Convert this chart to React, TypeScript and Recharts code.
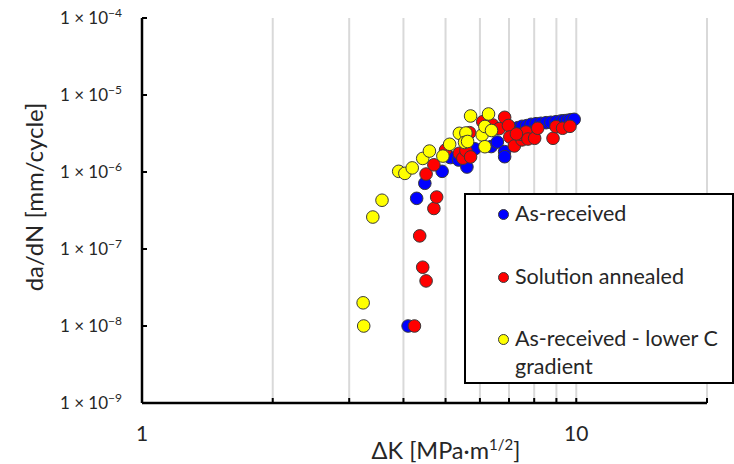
import {
  ScatterChart,
  Scatter,
  XAxis,
  YAxis,
  CartesianGrid,
  Legend,
} from "recharts";

const FONT = "Lato, 'Open Sans', sans-serif";

// ΔK [MPa·m^1/2] and da/dN [mm/cycle] per material state
const asReceivedDK = [
  4.1, 4.29, 4.48, 4.91, 5.13, 5.36, 5.6, 5.84, 6.37, 6.58, 6.84, 6.84, 7.14, 7.2, 7.33,
  7.36, 7.5, 7.69, 7.87, 8.08, 8.29, 8.52, 8.74, 8.98, 9.22, 9.38, 9.55, 9.72, 9.89,
];
const asReceivedRate = [
  1.0e-8, 4.55e-7, 7.13e-7, 1.02e-6, 1.54e-6, 1.43e-6, 1.16e-6, 2.0e-6, 2.14e-6, 2.45e-6,
  1.84e-6, 1.58e-6, 3.62e-6, 3.21e-6, 3.76e-6, 3.41e-6, 3.92e-6, 4.0e-6, 4.16e-6, 4.24e-6,
  4.29e-6, 4.37e-6, 4.42e-6, 4.5e-6, 4.6e-6, 4.64e-6, 4.69e-6, 4.78e-6, 4.83e-6,
];

const annealedDK = [
  4.24, 4.36, 4.43, 4.51, 4.7, 4.77, 4.51, 4.7, 5.0, 5.38, 5.48, 5.57, 5.71, 5.68, 6.09,
  6.42, 6.65, 6.84, 6.98, 7.03, 7.2, 7.5, 7.47, 7.66, 7.74, 8.02, 8.15, 8.84, 8.98, 9.3,
  9.67, 7.28,
];
const annealedRate = [
  1.0e-8, 1.48e-7, 5.8e-8, 3.85e-8, 3.36e-7, 4.73e-7, 9.4e-7, 1.24e-6, 1.93e-6, 1.75e-6,
  1.51e-6, 1.9e-6, 1.57e-6, 3.24e-6, 4.5e-6, 4.08e-6, 3.67e-6, 5.13e-6, 4.02e-6, 2.85e-6,
  2.18e-6, 2.61e-6, 3.09e-6, 3.31e-6, 2.68e-6, 2.74e-6, 3.7e-6, 2.74e-6, 3.88e-6, 3.7e-6,
  3.92e-6, 3.12e-6,
];

const lowerCDK = [
  3.24, 3.23, 3.4, 3.57, 3.9, 4.03, 4.19, 4.43, 4.59, 4.93, 5.11, 5.38, 5.57, 5.53, 5.62,
  5.71, 6.07, 6.16, 6.16, 6.28, 6.38,
];
const lowerCRate = [
  1.0e-8, 2.0e-8, 2.6e-7, 4.3e-7, 1.02e-6, 9.6e-7, 1.13e-6, 1.5e-6, 1.87e-6, 1.61e-6,
  2.29e-6, 3.18e-6, 3.21e-6, 2.42e-6, 2.49e-6, 5.34e-6, 3.03e-6, 3.9e-6, 2.13e-6, 5.67e-6,
  3.46e-6,
];

const xTicks = [1, 2, 3, 4, 5, 6, 7, 8, 9, 10, 20];
const xLabelled = [1, 10];
const yTicks = [1e-9, 1e-8, 1e-7, 1e-6, 1e-5, 1e-4];

const toPoints = (dk: number[], rate: number[]) =>
  dk.map((x, i) => ({ x, y: rate[i] }));

const series = [
  { name: "As-received", color: "#0000ff", data: toPoints(asReceivedDK, asReceivedRate) },
  { name: "Solution annealed", color: "#ff0000", data: toPoints(annealedDK, annealedRate) },
  {
    name: "As-received - lower C gradient",
    color: "#ffff00",
    data: toPoints(lowerCDK, lowerCRate),
  },
];

const Dot = (props: any) => {
  const { cx, cy, fill } = props;
  if (cx == null || cy == null) return null;
  return <circle cx={cx} cy={cy} r={6.3} fill={fill} stroke="#3a3a3a" strokeWidth={1} />;
};

const XTick = (props: any) => {
  const { x, y, payload } = props;
  const v = payload.value;
  return (
    <g>
      <line x1={x} y1={y} x2={x} y2={y - 5} stroke="#000" strokeWidth={2} />
      {xLabelled.includes(v) && (
        <text x={x} y={y + 38} textAnchor="middle" fontSize={21} fontFamily={FONT} fill="#262626">
          {v}
        </text>
      )}
    </g>
  );
};

const YTick = (props: any) => {
  const { x, y, payload } = props;
  const exp = Math.round(Math.log10(payload.value));
  return (
    <g>
      <line x1={x} y1={y} x2={x + 5} y2={y} stroke="#000" strokeWidth={2} />
      <text x={x - 20} y={y + 6} textAnchor="end" fontSize={17} fontFamily={FONT} fill="#262626">
        <tspan>1 × 10</tspan>
        <tspan dy={-7} fontSize={12}>
          {"\u2212" + Math.abs(exp)}
        </tspan>
      </text>
    </g>
  );
};

const LegendBox = () => {
  const rows = [
    { top: 19, lines: ["As-received"] },
    { top: 82, lines: ["Solution annealed"] },
    { top: 144, lines: ["As-received - lower C", "gradient"] },
  ];
  return (
    <div
      style={{
        width: 270,
        height: 191,
        boxSizing: "border-box",
        border: "2px solid #000",
        background: "#fff",
        position: "relative",
        fontFamily: FONT,
        fontSize: 21.5,
        color: "#262626",
      }}
    >
      {rows.map((r, i) => (
        <div key={i}>
          <span
            style={{
              position: "absolute",
              left: 32,
              top: r.top - 5.5,
              width: 9,
              height: 9,
              borderRadius: "50%",
              background: series[i].color,
              border: "1px solid #3a3a3a",
            }}
          />
          {r.lines.map((t, j) => (
            <div
              key={j}
              style={{
                position: "absolute",
                left: 49,
                top: r.top - 15 + j * 28,
                lineHeight: "28px",
                height: 28,
                whiteSpace: "nowrap",
              }}
            >
              {t}
            </div>
          ))}
        </div>
      ))}
    </div>
  );
};

export default function App() {
  return (
    <div style={{ position: "absolute", left: 0, top: 0, background: "#fff" }}>
      <ScatterChart
        width={734}
        height={464}
        margin={{ top: 18, right: 27, left: 12, bottom: 0 }}
      >
        <CartesianGrid
          horizontal={false}
          vertical
          stroke="#d9d9d9"
          strokeWidth={2}
        />
        <XAxis
          type="number"
          dataKey="x"
          scale="log"
          domain={[1, 20]}
          ticks={xTicks}
          interval={0}
          allowDataOverflow
          height={61}
          tickSize={0}
          tickMargin={0}
          tickLine={false}
          axisLine={{ stroke: "#000", strokeWidth: 2.5 }}
          tick={<XTick />}
          label={{
            content: () => (
              <text x={446} y={459} textAnchor="middle" fontSize={23.5} fontFamily={FONT} fill="#262626">
                <tspan>ΔK [MPa·m</tspan>
                <tspan dy={-9} fontSize={15}>1/2</tspan>
                <tspan dy={9}>]</tspan>
              </text>
            ),
          }}
        />
        <YAxis
          type="number"
          dataKey="y"
          scale="log"
          domain={[1e-9, 1e-4]}
          ticks={yTicks}
          interval={0}
          allowDataOverflow
          width={130}
          tickSize={0}
          tickMargin={0}
          tickLine={false}
          axisLine={{ stroke: "#000", strokeWidth: 2.5 }}
          tick={<YTick />}
          label={{
            content: () => (
              <text
                x={43}
                y={197}
                transform="rotate(-90 43 197)"
                textAnchor="middle"
                fontSize={24}
                fontFamily={FONT}
                fill="#262626"
              >
                da/dN [mm/cycle]
              </text>
            ),
          }}
        />
        <Legend
          layout="horizontal"
          verticalAlign="middle"
          align="center"
          content={<LegendBox />}
          wrapperStyle={{ position: "absolute", left: 464, top: 193, width: 270, height: 191 }}
        />
        {series.map((s) => (
          <Scatter
            key={s.name}
            name={s.name}
            data={s.data}
            fill={s.color}
            shape={<Dot />}
            isAnimationActive={false}
          />
        ))}
      </ScatterChart>
    </div>
  );
}
